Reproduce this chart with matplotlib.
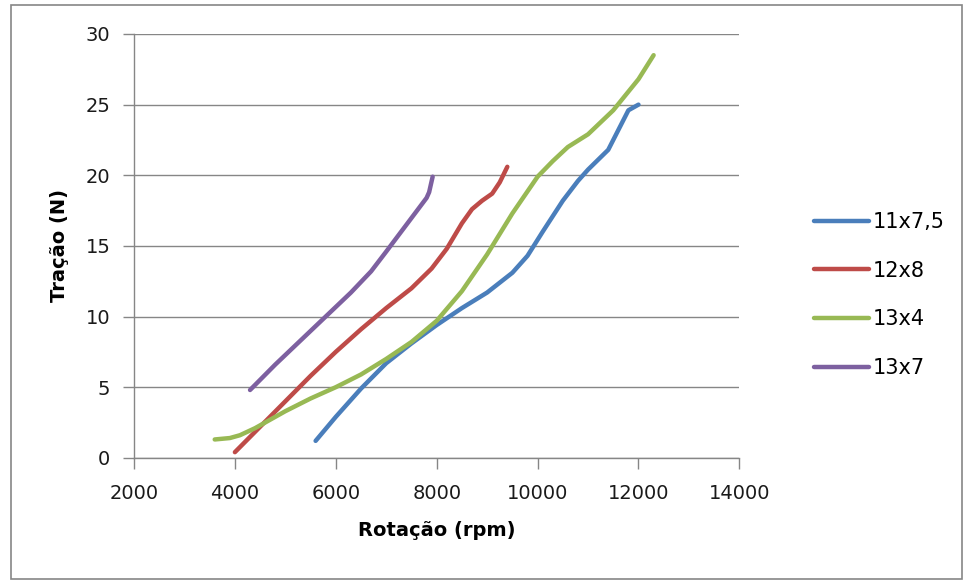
import matplotlib
matplotlib.use('Agg')
import matplotlib.pyplot as plt
from matplotlib.patches import Rectangle

# --- Dados ---
rot_11x75 = [5600, 6000, 6500, 7000, 7500, 8000, 8500, 9000, 9500, 9800, 10100, 10500, 10800, 11000, 11400, 11600, 11800, 12000]
tra_11x75 = [1.2, 2.9, 4.9, 6.7, 8.1, 9.4, 10.6, 11.7, 13.1, 14.3, 16.0, 18.2, 19.6, 20.4, 21.8, 23.2, 24.6, 25.0]

rot_12x8 = [4000, 4500, 5000, 5500, 6000, 6500, 7000, 7500, 7900, 8200, 8500, 8700, 8900, 9100, 9250, 9400]
tra_12x8 = [0.4, 2.2, 4.0, 5.8, 7.5, 9.1, 10.6, 12.0, 13.4, 14.8, 16.6, 17.6, 18.2, 18.7, 19.5, 20.6]

rot_13x4 = [3600, 3900, 4100, 4400, 5000, 5500, 6000, 6500, 7000, 7500, 8000, 8500, 9000, 9500, 10000, 10300, 10600, 11000, 11500, 12000, 12300]
tra_13x4 = [1.3, 1.4, 1.6, 2.1, 3.3, 4.2, 5.0, 5.9, 7.0, 8.2, 9.7, 11.8, 14.4, 17.3, 19.9, 21.0, 22.0, 22.9, 24.6, 26.8, 28.5]

rot_13x7 = [4300, 4800, 5300, 5800, 6300, 6700, 7000, 7400, 7800, 7850, 7920]
tra_13x7 = [4.8, 6.6, 8.3, 10.0, 11.7, 13.2, 14.6, 16.5, 18.4, 18.8, 19.9]

series = [
    ('11x7,5', rot_11x75, tra_11x75, '#4a7ebb'),
    ('12x8', rot_12x8, tra_12x8, '#be4b48'),
    ('13x4', rot_13x4, tra_13x4, '#98b954'),
    ('13x7', rot_13x7, tra_13x7, '#7d60a0'),
]

plt.rcParams['font.family'] = ['DejaVu Sans']

fig = plt.figure(figsize=(9.64, 5.81), dpi=100)
# moldura externa do gráfico
fig.patches.append(Rectangle((0.011, 0.004), 0.987, 0.988, transform=fig.transFigure,
                             fill=False, edgecolor='#868686', linewidth=1.2))

ax = fig.add_axes([0.139, 0.212, 0.628, 0.7295])

for nome, x, y, cor in series:
    ax.plot(x, y, color=cor, linewidth=3.2, label=nome,
            solid_joinstyle='round', solid_capstyle='round')

ax.set_xlim(2000, 14000)
ax.set_ylim(0, 30)
ax.set_xticks(range(2000, 14001, 2000))
ax.set_yticks(range(0, 31, 5))
ax.yaxis.grid(True, color='#868686', linewidth=1)
ax.set_axisbelow(True)

for s in ['top', 'right']:
    ax.spines[s].set_visible(False)
for s in ['left', 'bottom']:
    ax.spines[s].set_color('#868686')
    ax.spines[s].set_linewidth(1)

ax.tick_params(axis='both', colors='#868686', length=8, width=1, labelsize=14, labelcolor='#1a1a1a')
ax.tick_params(axis='y', pad=9)
ax.tick_params(axis='x', pad=11)

ax.set_xlabel('Rotação (rpm)', fontsize=14, fontweight='bold', labelpad=13)
ax.set_ylabel('Tração (N)', fontsize=14, fontweight='bold', labelpad=12)

leg = ax.legend(loc='center left', bbox_to_anchor=(1.092, 0.384), frameon=False,
                fontsize=15, handlelength=2.64, handletextpad=0.2, labelspacing=1.38)

fig.savefig('out.png', dpi=100)
plt.close(fig)
